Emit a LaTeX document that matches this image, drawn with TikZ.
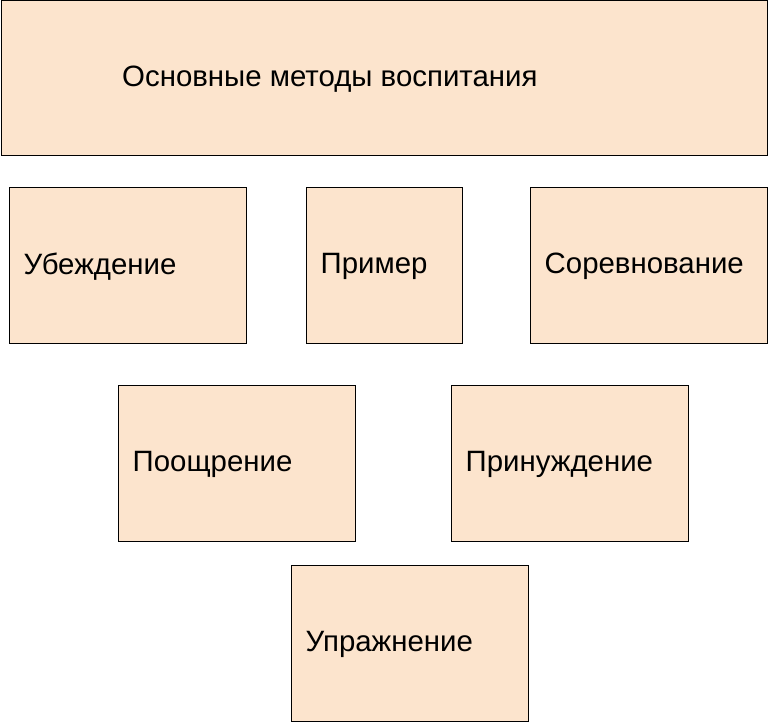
\documentclass[tikz,border=0pt]{standalone}
\usepackage{fontspec}
\setmainfont{Liberation Sans}
\begin{document}
\begin{tikzpicture}[x=1pt,y=-1pt,
  boxst/.style={draw=black,line width=1pt,fill={rgb,255:red,252;green,228;blue,205},inner sep=0pt},
  lbl/.style={anchor=west,inner sep=0pt,font=\fontsize{29.4}{34}\selectfont}]
\useasboundingbox (0,0) rectangle (768,722);
\newcommand{\mybox}[6]{%
  \node[boxst,minimum width=#3-#1,minimum height=#4-#2] (#5) at ({(#1+#3)/2},{(#2+#4)/2}) {};
  \node[lbl] (#5t) at ([xshift=15pt,yshift=-1pt]#5.west) {#6};}
\mybox{1}{1}{767}{156}{top}{}
\node[lbl] (toptext) at (122,79) {Основные методы воспитания};
\mybox{9}{188}{246}{343}{a}{Убеждение}
\mybox{306}{188}{462}{343}{b}{Пример}
\mybox{530}{188}{767}{343}{c}{Соревнование}
\mybox{118}{385}{355}{541}{d}{Поощрение}
\mybox{451}{385}{688}{541}{e}{Принуждение}
\mybox{291}{565}{528}{721}{f}{Упражнение}
\end{tikzpicture}
\end{document}
